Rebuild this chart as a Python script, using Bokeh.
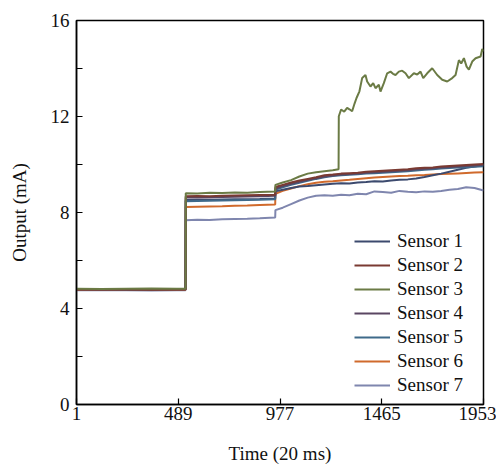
from bokeh.plotting import figure
from bokeh.models import Range1d, FixedTicker, Legend, LegendItem
from bokeh.embed import file_html
from bokeh.resources import INLINE

# ---- data ----
t_common = [1, 120, 240, 360, 480, 524, 525, 580, 640, 700, 760, 820, 880, 954,
            955, 990, 1030, 1070, 1110, 1150, 1190, 1230, 1270, 1310, 1350, 1390,
            1430, 1470, 1510, 1550, 1590, 1630, 1670, 1710, 1750, 1790, 1830,
            1870, 1910, 1953]

sensor1 = [4.80, 4.81, 4.79, 4.80, 4.81, 4.80, 8.52, 8.53, 8.52, 8.54, 8.55, 8.55, 8.56, 8.58,
           8.88, 8.95, 9.02, 9.08, 9.10, 9.14, 9.17, 9.20, 9.22, 9.21, 9.25, 9.27,
           9.30, 9.29, 9.33, 9.36, 9.38, 9.42, 9.48, 9.55, 9.62, 9.70, 9.78,
           9.86, 9.92, 9.98]
sensor2 = [4.79, 4.80, 4.79, 4.78, 4.79, 4.79, 8.68, 8.69, 8.68, 8.70, 8.71, 8.72, 8.73, 8.74,
           9.06, 9.15, 9.25, 9.33, 9.40, 9.47, 9.55, 9.58, 9.62, 9.64, 9.66, 9.70,
           9.72, 9.74, 9.76, 9.78, 9.80, 9.84, 9.86, 9.88, 9.92, 9.94, 9.96,
           9.98, 10.00, 10.02]
sensor4 = [4.80, 4.79, 4.80, 4.81, 4.80, 4.80, 8.63, 8.64, 8.63, 8.65, 8.66, 8.67, 8.68, 8.70,
           9.00, 9.10, 9.20, 9.28, 9.36, 9.43, 9.50, 9.54, 9.58, 9.60, 9.62, 9.66,
           9.68, 9.70, 9.72, 9.74, 9.76, 9.80, 9.82, 9.84, 9.88, 9.90, 9.92,
           9.94, 9.96, 9.99]
sensor5 = [4.81, 4.80, 4.81, 4.80, 4.81, 4.81, 8.47, 8.48, 8.49, 8.50, 8.51, 8.52, 8.53, 8.55,
           8.95, 9.05, 9.15, 9.24, 9.32, 9.40, 9.47, 9.52, 9.55, 9.57, 9.59, 9.62,
           9.64, 9.66, 9.68, 9.70, 9.72, 9.75, 9.78, 9.80, 9.83, 9.85, 9.87,
           9.89, 9.91, 9.93]
sensor6 = [4.78, 4.77, 4.78, 4.79, 4.78, 4.78, 8.23, 8.24, 8.25, 8.26, 8.28, 8.29, 8.31, 8.33,
           8.78, 8.90, 9.00, 9.10, 9.18, 9.24, 9.28, 9.30, 9.33, 9.36, 9.40, 9.43,
           9.46, 9.48, 9.50, 9.52, 9.53, 9.55, 9.56, 9.58, 9.60, 9.61, 9.63,
           9.65, 9.67, 9.68]
sensor7 = [4.76, 4.77, 4.76, 4.75, 4.76, 4.76, 7.68, 7.70, 7.69, 7.72, 7.73, 7.74, 7.76, 7.79,
           8.10, 8.20, 8.35, 8.50, 8.62, 8.70, 8.72, 8.70, 8.74, 8.72, 8.78, 8.76,
           8.88, 8.85, 8.82, 8.90, 8.86, 8.84, 8.88, 8.86, 8.90, 8.95, 8.98,
           9.05, 9.02, 8.92]

t_s3 = [1, 120, 240, 360, 480, 524, 525, 580, 640, 700, 760, 820, 880, 954,
        955, 990, 1030, 1070, 1110, 1150, 1190, 1230, 1258,
        1259, 1270, 1285, 1299, 1310, 1323, 1335, 1344, 1358, 1371, 1387, 1395,
        1411, 1424, 1435, 1451, 1459, 1475, 1491, 1507, 1519, 1531, 1547, 1563,
        1579, 1595, 1619, 1635, 1651, 1664, 1683, 1707, 1731, 1755, 1779, 1803,
        1819, 1835, 1846, 1859, 1872, 1883, 1899, 1915, 1939, 1947, 1953]
sensor3 = [4.82, 4.81, 4.82, 4.83, 4.82, 4.82, 8.80, 8.79, 8.82, 8.81, 8.83, 8.82, 8.85, 8.88,
           9.15, 9.25, 9.35, 9.50, 9.62, 9.68, 9.72, 9.76, 9.80,
           12.01, 12.29, 12.20, 12.36, 12.30, 12.22, 12.55, 12.77, 13.05, 13.60, 13.73, 13.46,
           13.25, 13.39, 13.18, 13.32, 13.04, 13.39, 13.80, 13.87, 13.78, 13.73, 13.87, 13.91,
           13.80, 13.60, 13.80, 13.75, 13.87, 13.60, 13.80, 14.01, 13.73, 13.53, 13.46, 13.60,
           13.73, 14.35, 14.21, 14.43, 14.08, 13.95, 14.29, 14.43, 14.50, 14.81, 14.71]

names = ["Sensor 1", "Sensor 2", "Sensor 3", "Sensor 4", "Sensor 5", "Sensor 6", "Sensor 7"]
colors = ["#3c4a6e", "#7a3a32", "#6b7b45", "#5a4662", "#3f6a8a", "#d06a2c", "#7f86ae"]
x_ticks = [1, 489, 977, 1465, 1953]
y_ticks = [0, 2, 4, 6, 8, 10, 12, 14, 16]
y_labels = {0: "0", 2: "", 4: "4", 6: "", 8: "8", 10: "", 12: "12", 14: "", 16: "16"}

FONT = "Liberation Serif"

p = figure(width=496, height=466, output_backend="svg", toolbar_location=None,
           x_range=Range1d(1, 1953), y_range=Range1d(0, 16),
           min_border_left=76, min_border_right=13, min_border_top=20, min_border_bottom=58)
p.xgrid.visible = False
p.ygrid.visible = False
p.outline_line_color = "black"
p.outline_line_width = 1.5
p.background_fill_color = "white"
p.border_fill_color = "white"

series = [(t_common, sensor1), (t_common, sensor2), (t_s3, sensor3), (t_common, sensor4),
          (t_common, sensor5), (t_common, sensor6), (t_common, sensor7)]
draw_order = [6, 5, 0, 4, 3, 1, 2]
renderers = {}
for i in draw_order:
    xs, ys = series[i]
    renderers[i] = p.line(xs, ys, line_color=colors[i], line_width=2)

items = [LegendItem(label=names[i], renderers=[renderers[i]]) for i in range(7)]
legend = Legend(items=items, location=(278, 8), padding=0, margin=0,
                glyph_width=36, glyph_height=20, label_height=20, spacing=2,
                label_standoff=7, label_text_font=FONT, label_text_font_size="19px",
                label_text_color="#111111", border_line_color=None,
                background_fill_alpha=0)
p.add_layout(legend)

p.xaxis.ticker = FixedTicker(ticks=x_ticks)
p.yaxis.ticker = FixedTicker(ticks=y_ticks)
p.yaxis.major_label_overrides = y_labels
for ax in (p.xaxis[0], p.yaxis[0]):
    ax.axis_line_width = 1.5
    ax.axis_line_color = "black"
    ax.major_tick_in = 6
    ax.major_tick_out = 0
    ax.major_tick_line_color = "black"
    ax.major_tick_line_width = 1.2
    ax.minor_tick_line_color = None
    ax.major_label_text_font = FONT
    ax.major_label_text_font_size = "19px"
    ax.major_label_text_color = "#111111"
    ax.axis_label_text_font = FONT
    ax.axis_label_text_font_size = "19px"
    ax.axis_label_text_font_style = "normal"
    ax.axis_label_text_color = "#111111"

p.xaxis.axis_label = "Time (20 ms)"
p.yaxis.axis_label = "Output (mA)"
p.xaxis.major_label_standoff = 2
p.xaxis.axis_label_standoff = 20
p.yaxis.major_label_standoff = 7
p.yaxis.axis_label_standoff = 18

open("out.html", "w").write(file_html(p, INLINE))
